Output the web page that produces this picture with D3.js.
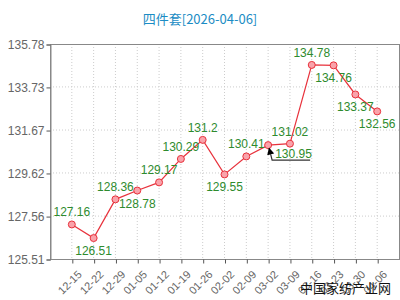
<!DOCTYPE html>
<html>
<head>
<meta charset="utf-8">
<script src="https://cdn.jsdelivr.net/npm/d3@7"></script>
<style>
  body { margin: 0; background: #fff; }
  svg { display: block; }
</style>
</head>
<body>
<svg id="chart"></svg>
<script>
// chart data
const dates = ['12-15', '12-22', '12-29', '01-05', '01-12', '01-19', '01-26',
  '02-02', '02-09', '03-02', '03-09', '03-16', '03-23', '03-30', '04-06'];
const prices = [127.16, 126.51, 128.36, 128.78, 129.17, 130.29, 131.2,
  129.55, 130.41, 130.95, 131.02, 134.78, 134.76, 133.37, 132.56];
const yTicks = [125.51, 127.56, 129.62, 131.67, 133.73, 135.78];
const title = '四件套[2026-04-06]';
const watermark = '中国家纺产业网';
const markedIndex = 9; // the point with the arrow note

// label placement: 'up' above the point, 'down' below it
const labelSide = ['up', 'down', 'up', 'down', 'up', 'up', 'up',
  'down', 'up', 'note', 'up', 'up', 'down', 'down', 'down'];

// drawing constants
const W = 400, H = 300;
const LEFT = 50, RIGHT = 399, TOP = 44, BOTTOM = 259;
const GRAY = '#666';

const svg = d3.select('#chart')
  .attr('width', W)
  .attr('height', H)
  .attr('font-family', 'Arial, "Liberation Sans", sans-serif');

const x = d3.scaleLinear().domain([-1, dates.length]).range([LEFT, RIGHT]);
const y = d3.scaleLinear().domain([yTicks[0], yTicks[yTicks.length - 1]]).range([BOTTOM, TOP]);

// title
svg.append('text')
  .attr('x', 200)
  .attr('y', 24)
  .attr('text-anchor', 'middle')
  .attr('font-size', 13)
  .attr('font-family', '"Noto Sans CJK SC", sans-serif')
  .attr('fill', '#1b8cc4')
  .text(title);

// grid
svg.append('g')
  .selectAll('line')
  .data(dates)
  .join('line')
  .attr('x1', (d, i) => x(i)).attr('x2', (d, i) => x(i))
  .attr('y1', TOP).attr('y2', BOTTOM)
  .attr('stroke', '#ccc')
  .attr('stroke-dasharray', '1,2');

svg.append('g')
  .selectAll('line')
  .data(yTicks.slice(1, -1))
  .join('line')
  .attr('x1', LEFT).attr('x2', RIGHT)
  .attr('y1', d => y(d)).attr('y2', d => y(d))
  .attr('stroke', '#ccc')
  .attr('stroke-dasharray', '1,2');

// frame
svg.append('rect')
  .attr('x', LEFT + 0.5).attr('y', TOP + 0.5)
  .attr('width', RIGHT - LEFT).attr('height', BOTTOM - TOP)
  .attr('fill', 'none')
  .attr('stroke', '#888');

// y axis
const yAxis = svg.append('g')
  .attr('transform', `translate(${LEFT + 0.5},0.5)`)
  .call(d3.axisLeft(y).tickValues(yTicks).tickFormat(d3.format('.2f')).tickSize(4).tickPadding(2));
yAxis.select('.domain').attr('stroke', '#888');
yAxis.selectAll('.tick line').attr('stroke', '#555');
yAxis.selectAll('text').attr('fill', GRAY).attr('font-size', 12);

// x axis
const xAxis = svg.append('g')
  .attr('transform', `translate(0.5,${BOTTOM + 0.5})`)
  .call(d3.axisBottom(x).tickValues(d3.range(dates.length)).tickFormat(i => dates[i]).tickSize(4));
xAxis.select('.domain').remove();
xAxis.selectAll('.tick line').attr('stroke', '#555');
xAxis.selectAll('text')
  .attr('fill', GRAY)
  .attr('font-size', 11)
  .attr('text-anchor', 'end')
  .attr('dy', '0.35em')
  .attr('transform', 'translate(2,8) rotate(-45)');

// line and points
const line = d3.line().x((d, i) => x(i)).y(d => y(d));
svg.append('path')
  .datum(prices)
  .attr('d', line)
  .attr('fill', 'none')
  .attr('stroke', '#e8323c')
  .attr('stroke-width', 1.2);

svg.append('g')
  .selectAll('circle')
  .data(prices)
  .join('circle')
  .attr('cx', (d, i) => x(i))
  .attr('cy', d => y(d))
  .attr('r', 3.5)
  .attr('fill', '#f9a3ab')
  .attr('stroke', '#e8323c');

// value labels (keep the original index so placement lines up)
const labelled = prices
  .map((v, i) => ({ v, i, side: labelSide[i] }))
  .filter(d => d.side !== 'note');
svg.append('g')
  .selectAll('text')
  .data(labelled)
  .join('text')
  .attr('x', d => x(d.i))
  .attr('y', d => y(d.v) + (d.side === 'up' ? -8 : 17))
  .attr('text-anchor', 'middle')
  .attr('font-size', 12)
  .attr('fill', '#2e8b2e')
  .text(d => d.v);

// arrow note
const mx = x(markedIndex), my = y(prices[markedIndex]);
svg.append('defs').append('marker')
  .attr('id', 'head')
  .attr('viewBox', '0 0 10 10')
  .attr('refX', 9).attr('refY', 5)
  .attr('markerWidth', 6).attr('markerHeight', 6)
  .attr('orient', 'auto')
  .append('path')
  .attr('d', 'M0,0L10,5L0,10z')
  .attr('fill', '#000');
svg.append('polyline')
  .attr('points', `${mx + 42},${my + 15} ${mx + 4},${my + 15} ${mx + 1},${my + 3}`)
  .attr('fill', 'none')
  .attr('stroke', '#333')
  .attr('stroke-width', 1.2)
  .attr('marker-end', 'url(#head)');
svg.append('text')
  .attr('x', mx + 7)
  .attr('y', my + 13)
  .attr('font-size', 12)
  .attr('fill', '#2e8b2e')
  .text(prices[markedIndex]);

// watermark
svg.append('text')
  .attr('x', 391)
  .attr('y', 293)
  .attr('text-anchor', 'end')
  .attr('font-size', 13)
  .attr('font-family', '"Noto Sans CJK SC", sans-serif')
  .attr('fill', '#111')
  .text(watermark);
</script>
</body>
</html>
